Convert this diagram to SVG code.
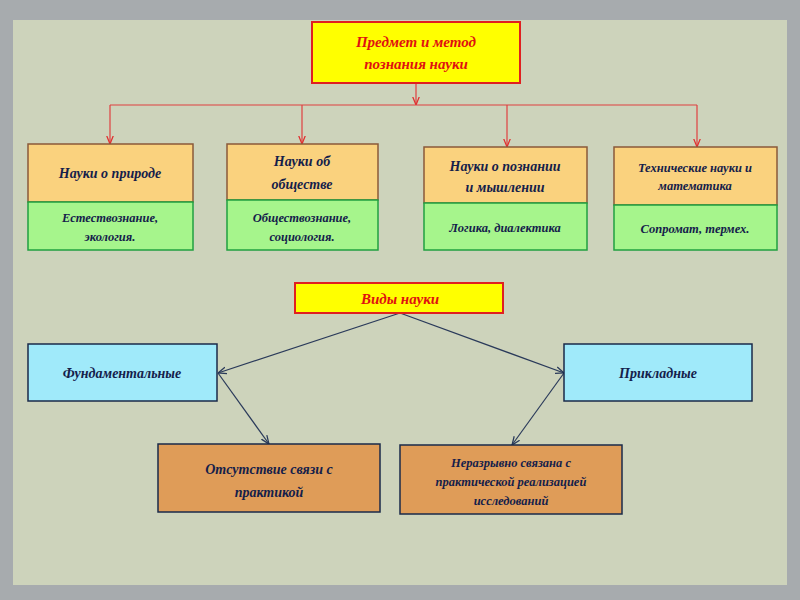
<svg xmlns="http://www.w3.org/2000/svg" width="800" height="600" viewBox="0 0 800 600">
<defs>
<marker id="ar" viewBox="0 0 10 10" refX="10" refY="5" markerWidth="7" markerHeight="7" orient="auto"><path d="M0,1 L10,5 L0,9" fill="none" stroke="#e03030" stroke-width="1.5"/></marker>
<marker id="ab" viewBox="0 0 10 10" refX="10" refY="5" markerWidth="7" markerHeight="7" orient="auto"><path d="M0,1 L10,5 L0,9" fill="none" stroke="#2a3a5a" stroke-width="1.5"/></marker>
</defs>
<style>
text{font-family:"Liberation Serif",serif;font-style:italic;font-weight:bold;fill:#14204a;text-anchor:middle}
.red{fill:#e01010}
.y{fill:#ffff00;stroke:#e02020;stroke-width:2}
.o{fill:#fad27e;stroke:#8a5a3a;stroke-width:1.5}
.g{fill:#a6f58c;stroke:#20a040;stroke-width:1.5}
.b{fill:#a0eafa;stroke:#1a2a4a;stroke-width:1.5}
.br{fill:#df9c58;stroke:#1a2a4a;stroke-width:1.5}
.cr{stroke:#e04040;stroke-width:1.2;fill:none}
.cb{stroke:#2a3a5a;stroke-width:1.2;fill:none}
</style>
<rect width="800" height="600" fill="#a7abae"/>
<rect x="13" y="20" width="774" height="565" fill="#cdd3bb"/>
<g id="connectors">
<line class="cr" x1="416" y1="83" x2="416" y2="105" marker-end="url(#ar)"/>
<line class="cr" x1="110" y1="105" x2="697" y2="105"/>
<line class="cr" x1="110" y1="105" x2="110" y2="144" marker-end="url(#ar)"/>
<line class="cr" x1="302" y1="105" x2="302" y2="144" marker-end="url(#ar)"/>
<line class="cr" x1="507" y1="105" x2="507" y2="147" marker-end="url(#ar)"/>
<line class="cr" x1="697" y1="105" x2="697" y2="147" marker-end="url(#ar)"/>
<line class="cb" x1="400" y1="313" x2="218" y2="373" marker-end="url(#ab)"/>
<line class="cb" x1="400" y1="313" x2="564" y2="373" marker-end="url(#ab)"/>
<line class="cb" x1="218" y1="373" x2="269" y2="444" marker-end="url(#ab)"/>
<line class="cb" x1="564" y1="373" x2="512" y2="445" marker-end="url(#ab)"/>
</g>
<g id="top"><rect class="y" x="312" y="22" width="208" height="61"/><text class="red" x="416" y="47" font-size="15">Предмет и метод</text><text class="red" x="416" y="69" font-size="15">познания науки</text></g>
<g id="n1"><rect class="o" x="28" y="144" width="165" height="58"/><rect class="g" x="28" y="202" width="165" height="48"/><text x="110" y="178" font-size="14">Науки о природе</text><text x="110" y="222" font-size="12.5">Естествознание,</text><text x="110" y="241" font-size="12.5">экология.</text></g>
<g id="n2"><rect class="o" x="227" y="144" width="151" height="56"/><rect class="g" x="227" y="200" width="151" height="50"/><text x="302" y="166" font-size="14">Науки об</text><text x="302" y="189" font-size="14">обществе</text><text x="302" y="222" font-size="12.5">Обществознание,</text><text x="302" y="241" font-size="12.5">социология.</text></g>
<g id="n3"><rect class="o" x="424" y="147" width="163" height="56"/><rect class="g" x="424" y="203" width="163" height="47"/><text x="505" y="171" font-size="14">Науки о познании</text><text x="505" y="192" font-size="14">и мышлении</text><text x="505" y="232" font-size="12.5">Логика, диалектика</text></g>
<g id="n4"><rect class="o" x="614" y="147" width="163" height="58"/><rect class="g" x="614" y="205" width="163" height="45"/><text x="695" y="172" font-size="12.5">Технические науки и</text><text x="695" y="190" font-size="12.5">математика</text><text x="695" y="233" font-size="12.5">Сопромат, термех.</text></g>
<g id="vidy"><rect class="y" x="295" y="283" width="208" height="30"/><text class="red" x="400" y="304" font-size="15">Виды науки</text></g>
<g id="fund"><rect class="b" x="28" y="344" width="189" height="57"/><text x="122" y="378" font-size="14">Фундаментальные</text></g>
<g id="prikl"><rect class="b" x="564" y="344" width="188" height="57"/><text x="658" y="378" font-size="14">Прикладные</text></g>
<g id="otsut"><rect class="br" x="158" y="444" width="222" height="68"/><text x="269" y="474" font-size="14">Отсутствие связи с</text><text x="269" y="497" font-size="14">практикой</text></g>
<g id="nerazr"><rect class="br" x="400" y="445" width="222" height="69"/><text x="511" y="467" font-size="12.5">Неразрывно связана с</text><text x="511" y="486" font-size="12.5">практической реализацией</text><text x="511" y="505" font-size="12.5">исследований</text></g>
</svg>
